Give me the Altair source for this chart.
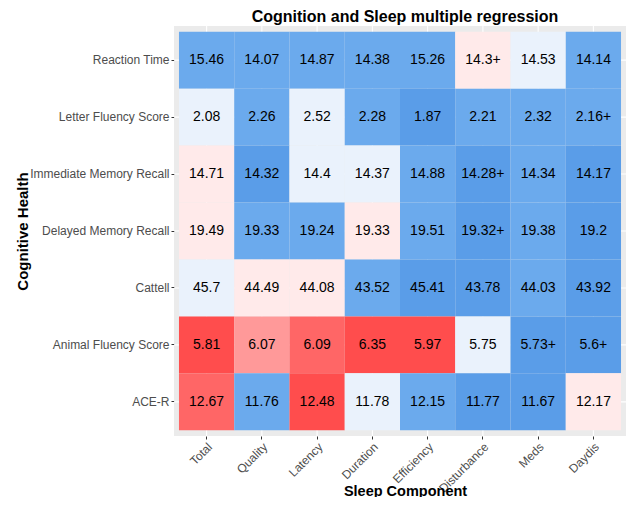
import altair as alt
import pandas as pd

components = ["Total", "Quality", "Latency", "Duration", "Efficiency", "Disturbance", "Meds", "Daydis"]
outcomes = ["Reaction Time", "Letter Fluency Score", "Immediate Memory Recall",
            "Delayed Memory Recall", "Cattell", "Animal Fluency Score", "ACE-R"]

labels = {
    "Reaction Time":           ["15.46", "14.07", "14.87", "14.38", "15.26", "14.3+", "14.53", "14.14"],
    "Letter Fluency Score":    ["2.08", "2.26", "2.52", "2.28", "1.87", "2.21", "2.32", "2.16+"],
    "Immediate Memory Recall": ["14.71", "14.32", "14.4", "14.37", "14.88", "14.28+", "14.34", "14.17"],
    "Delayed Memory Recall":   ["19.49", "19.33", "19.24", "19.33", "19.51", "19.32+", "19.38", "19.2"],
    "Cattell":                 ["45.7", "44.49", "44.08", "43.52", "45.41", "43.78", "44.03", "43.92"],
    "Animal Fluency Score":    ["5.81", "6.07", "6.09", "6.35", "5.97", "5.75", "5.73+", "5.6+"],
    "ACE-R":                   ["12.67", "11.76", "12.48", "11.78", "12.15", "11.77", "11.67", "12.17"],
}

# significance level category of each cell
levels = {
    "Reaction Time":           ["B", "B", "B", "B", "B", "P", "L", "B"],
    "Letter Fluency Score":    ["L", "B", "L", "B", "D", "B", "B", "B"],
    "Immediate Memory Recall": ["P", "D", "L", "L", "B", "D", "B", "D"],
    "Delayed Memory Recall":   ["P", "B", "B", "P", "B", "D", "B", "D"],
    "Cattell":                 ["L", "P", "P", "B", "D", "D", "B", "D"],
    "Animal Fluency Score":    ["R3", "R1", "R2", "R3", "R3", "L", "D", "D"],
    "ACE-R":                   ["R2", "B", "R3", "L", "B", "D", "D", "P"],
}

level_domain = ["D", "B", "L", "P", "R1", "R2", "R3"]
level_colors = ["#5a9de8", "#6baaed", "#eaf2fc", "#ffeaea", "#ff9999", "#ff6666", "#ff4d4d"]

rows = []
for o in outcomes:
    for c, lab, lev in zip(components, labels[o], levels[o]):
        rows.append({"component": c, "outcome": o, "label": lab, "level": lev})
df = pd.DataFrame(rows)

FONT = "Liberation Sans"

xscale = alt.Scale(domain=components, paddingInner=0, paddingOuter=0.09)
yscale = alt.Scale(domain=outcomes, paddingInner=0, paddingOuter=0.1)

x = alt.X("component:N", sort=components, scale=xscale,
          axis=alt.Axis(title="Sleep Component", labelAngle=315, labelAlign="right",
                        labelBaseline="top", labelPadding=2, tickSize=3,
                        tickColor="#333333", labelColor="#4d4d4d", labelFontSize=12,
                        labelFont=FONT, domain=False, grid=False, titleFont=FONT,
                        titleFontSize=14.5, titleFontWeight="bold", titleColor="black",
                        titleX=231, titleAlign="center",
                        titleY=59, titleBaseline="alphabetic"))
y = alt.Y("outcome:N", sort=outcomes, scale=yscale,
          axis=alt.Axis(title="Cognitive Health", labelPadding=2, tickSize=3,
                        tickColor="#333333", labelColor="#4d4d4d", labelFontSize=12,
                        labelFont=FONT, labelLimit=200, domain=False, grid=False, titleFont=FONT,
                        titleFontSize=15, titleFontWeight="bold", titleColor="black",
                        titleAngle=270, titleX=-152, titleY=205, titleAlign="center",
                        titleBaseline="middle"))

vgrid = alt.Chart(pd.DataFrame({"component": components})).mark_rule(
    color="white", strokeWidth=1.1).encode(x=alt.X("component:N", sort=components, scale=xscale))
hgrid = alt.Chart(pd.DataFrame({"outcome": outcomes})).mark_rule(
    color="white", strokeWidth=1.1).encode(y=alt.Y("outcome:N", sort=outcomes, scale=yscale))

rect = alt.Chart(df).mark_rect().encode(
    x=x, y=y,
    color=alt.Color("level:N", scale=alt.Scale(domain=level_domain, range=level_colors), legend=None),
)
text = alt.Chart(df).mark_text(font=FONT, fontSize=14, color="black").encode(
    x=alt.X("component:N", sort=components, scale=xscale),
    y=alt.Y("outcome:N", sort=outcomes, scale=yscale),
    text="label:N",
)

chart = (vgrid + hgrid + rect + text).properties(
    width=452, height=410,
    autosize=alt.AutoSizeParams(type="none"),
    padding={"left": 166, "top": 18, "right": 0, "bottom": 61},
    title=alt.TitleParams("Cognition and Sleep multiple regression", font=FONT, fontSize=16,
                          fontWeight="bold", color="black", anchor="middle", offset=0, dx=5),
).configure_view(fill="#ebebeb", stroke=None)

chart.save("out.html", embed_options={"renderer": "svg", "actions": False})
